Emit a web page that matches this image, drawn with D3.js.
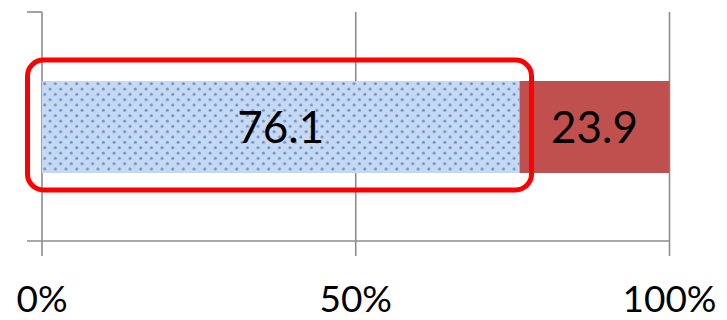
<!DOCTYPE html>
<html>
<head>
<meta charset="utf-8">
<script src="https://cdn.jsdelivr.net/npm/d3@7"></script>
<style>
  html, body { margin: 0; padding: 0; background: #fff; }
  svg { display: block; }
</style>
</head>
<body>
<svg id="chart" width="727" height="320"></svg>
<script>
// Single stacked 100% bar: share of responses
const categories = ["回答"];
const seriesNames = ["はい", "いいえ"];
const seriesValues = [76.1, 23.9];
const tickValues = [0, 50, 100];
const tickLabels = ["0%", "50%", "100%"];

const svg = d3.select("#chart");
const font = "Lato, 'Open Sans', sans-serif";

const x = d3.scaleLinear().domain([0, 100]).range([42, 669.5]);
const y = d3.scaleBand().domain(categories).range([12, 242]).paddingInner(0).paddingOuter(0.75);

// dotted fill for the first segment
const defs = svg.append("defs");
const T = 10.67;
const pat = defs.append("pattern")
  .attr("id", "dots")
  .attr("patternUnits", "userSpaceOnUse")
  .attr("x", x(0)).attr("y", y(categories[0]))
  .attr("width", T).attr("height", T);
pat.append("rect").attr("width", T).attr("height", T).attr("fill", "#c6d9f1");
[[2.7, 2.7], [8.0, 8.0]].forEach(([cx, cy]) => {
  pat.append("circle").attr("cx", cx).attr("cy", cy).attr("r", 1.5)
    .attr("fill", "#5088d4").attr("opacity", 0.85);
});

// gridlines / axes
const grid = svg.append("g").attr("stroke", "#8c8c8c").attr("stroke-width", 1.6);
grid.selectAll("line.v").data(tickValues).join("line")
  .attr("class", "v")
  .attr("x1", d => x(d)).attr("x2", d => x(d))
  .attr("y1", 12).attr("y2", 256);
grid.append("line").attr("x1", 27).attr("x2", x(100)).attr("y1", 241).attr("y2", 241);
grid.append("line").attr("x1", 27).attr("x2", x(0)).attr("y1", 12).attr("y2", 12);

// stacked segments
let acc = 0;
const segs = seriesValues.map((v, i) => {
  const s = { name: seriesNames[i], v, x0: acc, x1: acc + v, i };
  acc += v;
  return s;
});
const fills = ["url(#dots)", "#c0504d"];
const bar = svg.append("g");
bar.selectAll("rect").data(segs).join("rect")
  .attr("x", d => x(d.x0))
  .attr("width", d => x(d.x1) - x(d.x0))
  .attr("y", y(categories[0]))
  .attr("height", y.bandwidth())
  .attr("fill", d => fills[d.i]);

bar.selectAll("text").data(segs).join("text")
  .attr("x", d => (x(d.x0) + x(d.x1)) / 2)
  .attr("y", y(categories[0]) + y.bandwidth() / 2 + 16)
  .attr("text-anchor", "middle")
  .attr("font-family", font)
  .attr("font-size", 44)
  .attr("fill", "#000")
  .text(d => d.v.toFixed(1));

// highlight box around the first segment
const by = y(categories[0]);
svg.append("rect")
  .attr("x", x(0) - 14.5)
  .attr("y", by - 21)
  .attr("width", x(segs[0].x1) + 12 - (x(0) - 14.5))
  .attr("height", y.bandwidth() + 38)
  .attr("rx", 16).attr("ry", 16)
  .attr("fill", "none")
  .attr("stroke", "#ff0000")
  .attr("stroke-width", 5);

// tick labels
svg.append("g").selectAll("text").data(tickValues).join("text")
  .attr("x", d => x(d))
  .attr("y", 312)
  .attr("text-anchor", "middle")
  .attr("font-family", font)
  .attr("font-size", 37)
  .attr("fill", "#000")
  .text((d, i) => tickLabels[i]);
</script>
</body>
</html>
